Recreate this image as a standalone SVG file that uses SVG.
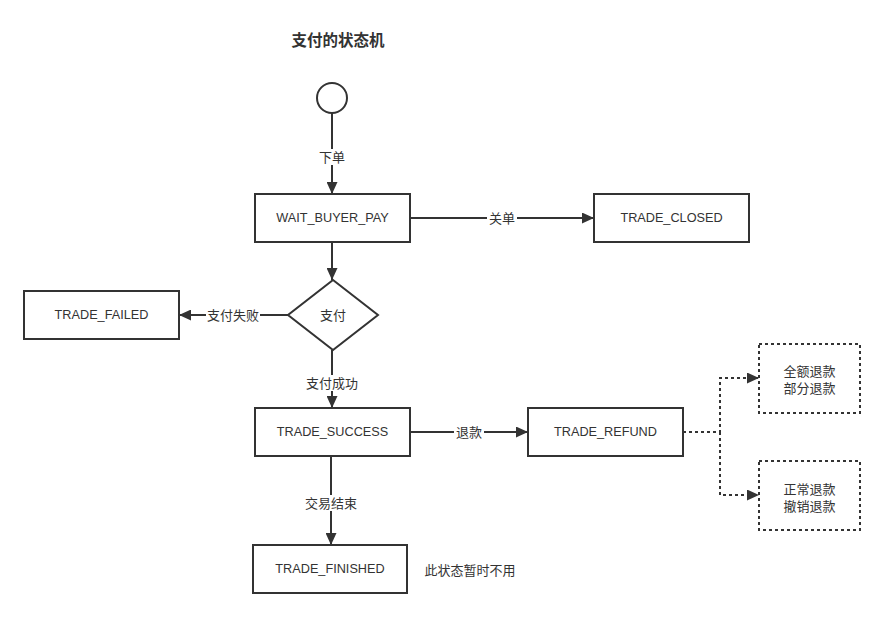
<svg xmlns="http://www.w3.org/2000/svg" width="885" height="617" viewBox="0 0 885 617">
<style>
.box{fill:#fff;stroke:#333;stroke-width:2}
.dbox{fill:#fff;stroke:#333;stroke-width:2;stroke-dasharray:3,3}
.t{font-family:"Liberation Sans","Noto Sans CJK SC",sans-serif;font-size:13px;fill:#333;text-anchor:middle;dominant-baseline:central}
.en{font-size:12.7px}
.e{stroke:#333;stroke-width:2;fill:none}
.d{stroke:#333;stroke-width:2;fill:none;stroke-dasharray:3,3}
.lb{fill:#fff}
</style>
<defs>
<marker id="ah" viewBox="0 0 12 11" refX="12" refY="5.5" markerWidth="12" markerHeight="11" markerUnits="userSpaceOnUse" orient="auto">
<path d="M0,0 L12,5.5 L0,11 z" fill="#333"/>
</marker>
</defs>
<text x="338" y="40" class="t" style="font-size:15.5px;font-weight:bold">支付的状态机</text>
<g id="connectors">
<path class="e" d="M332,113 V194" marker-end="url(#ah)"/>
<rect class="lb" x="317" y="149" width="30" height="16"/>
<text class="t" x="332" y="157">下单</text>
<path class="e" d="M410,218 H594" marker-end="url(#ah)"/>
<rect class="lb" x="487" y="210" width="30" height="16"/>
<text class="t" x="502" y="218">关单</text>
<path class="e" d="M332,242 V280" marker-end="url(#ah)"/>
<path class="e" d="M288,315 H179" marker-end="url(#ah)"/>
<rect class="lb" x="206" y="307" width="54" height="16"/>
<text class="t" x="233" y="315">支付失败</text>
<path class="e" d="M332,350 V408" marker-end="url(#ah)"/>
<rect class="lb" x="305" y="375" width="54" height="16"/>
<text class="t" x="332" y="383">支付成功</text>
<path class="e" d="M410,432 H528" marker-end="url(#ah)"/>
<rect class="lb" x="454" y="424" width="30" height="16"/>
<text class="t" x="469" y="432">退款</text>
<path class="e" d="M331,457 V545" marker-end="url(#ah)"/>
<rect class="lb" x="303" y="495" width="56" height="16"/>
<text class="t" x="331" y="503">交易结束</text>
<path class="d" d="M683,432 H720 V378 H759" marker-end="url(#ah)"/>
<path class="d" d="M720,432 V495 H759" marker-end="url(#ah)"/>
</g>
<g id="start"><circle cx="332" cy="98" r="15" class="box"/></g>
<g id="wait_buyer_pay"><rect class="box" x="255" y="194" width="155" height="48"/><text class="t en" x="332.5" y="218">WAIT_BUYER_PAY</text></g>
<g id="trade_closed"><rect class="box" x="594" y="194" width="155" height="48"/><text class="t en" x="671.5" y="218">TRADE_CLOSED</text></g>
<g id="pay"><path class="box" d="M333,280 L378,315 L333,350 L288,315 z"/><text class="t" x="333" y="315">支付</text></g>
<g id="trade_failed"><rect class="box" x="24" y="291" width="155" height="48"/><text class="t en" x="101.5" y="315">TRADE_FAILED</text></g>
<g id="trade_success"><rect class="box" x="255" y="408" width="155" height="48"/><text class="t en" x="332.5" y="432">TRADE_SUCCESS</text></g>
<g id="trade_refund"><rect class="box" x="528" y="408" width="155" height="48"/><text class="t en" x="605.5" y="432">TRADE_REFUND</text></g>
<g id="refund_a"><rect class="dbox" x="759" y="344" width="101" height="69"/><text class="t" x="809.5" y="371">全额退款</text><text class="t" x="809.5" y="388">部分退款</text></g>
<g id="refund_b"><rect class="dbox" x="759" y="461" width="101" height="69"/><text class="t" x="809.5" y="489">正常退款</text><text class="t" x="809.5" y="506">撤销退款</text></g>
<g id="trade_finished"><rect class="box" x="253" y="545" width="154" height="48"/><text class="t en" x="330" y="569">TRADE_FINISHED</text></g>
<text class="t" x="470" y="570">此状态暂时不用</text>
</svg>
